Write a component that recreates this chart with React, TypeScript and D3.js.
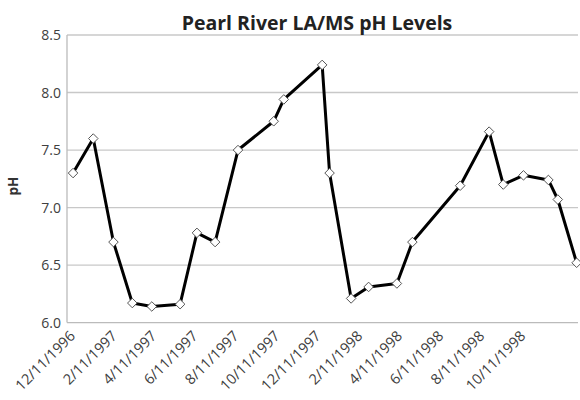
import React, { useEffect, useRef } from 'react';
import * as d3 from 'd3';

const sampleDates = [
  '1996-12-20', '1997-01-19', '1997-02-18', '1997-03-18', '1997-04-16', '1997-05-28',
  '1997-06-22', '1997-07-19', '1997-08-22', '1997-10-14', '1997-10-29', '1997-12-25',
  '1998-01-05', '1998-02-06', '1998-03-04', '1998-04-15', '1998-05-08', '1998-07-18',
  '1998-08-30', '1998-09-20', '1998-10-20', '1998-11-26', '1998-12-10', '1999-01-07',
];
const phValues = [
  7.30, 7.60, 6.70, 6.17, 6.14, 6.16,
  6.78, 6.70, 7.50, 7.75, 7.94, 8.24,
  7.30, 6.21, 6.31, 6.34, 6.70, 7.19,
  7.66, 7.20, 7.28, 7.24, 7.07, 6.52,
];
const tickDates = [
  '1996-12-11', '1997-02-11', '1997-04-11', '1997-06-11', '1997-08-11', '1997-10-11',
  '1997-12-11', '1998-02-11', '1998-04-11', '1998-06-11', '1998-08-11', '1998-10-11',
];
const yTicks = [6.0, 6.5, 7.0, 7.5, 8.0, 8.5];

const parse = d3.utcParse('%Y-%m-%d');
const fmt = (d: Date) => `${d.getUTCMonth() + 1}/${d.getUTCDate()}/${d.getUTCFullYear()}`;

const App = () => {
  const ref = useRef<SVGSVGElement | null>(null);

  useEffect(() => {
    if (!ref.current) return;
    const svg = d3.select(ref.current);
    svg.selectAll('*').remove();

    const left = 67, right = 578, top = 35, bottom = 322.6;
    const font = '"Open Sans", sans-serif';

    const x = d3.scaleUtc()
      .domain([parse('1996-12-11')!, parse('1999-01-09')!])
      .range([left, right]);
    const y = d3.scaleLinear().domain([6, 8.5]).range([bottom, top]);

    const data = sampleDates.map((d, i) => ({ date: parse(d)!, v: phValues[i] }));

    svg.append('rect').attr('width', 580).attr('height', 400).attr('fill', '#fff');

    // grid
    svg.append('g').selectAll('line')
      .data(yTicks.slice(1))
      .join('line')
      .attr('x1', left).attr('x2', right)
      .attr('y1', d => y(d)).attr('y2', d => y(d))
      .attr('stroke', '#c8c8c8').attr('stroke-width', 1.3);

    // axes lines
    svg.append('line').attr('x1', left).attr('x2', left).attr('y1', top).attr('y2', bottom)
      .attr('stroke', '#bbb').attr('stroke-width', 1.3);
    svg.append('line').attr('x1', left).attr('x2', right).attr('y1', bottom).attr('y2', bottom)
      .attr('stroke', '#bbb').attr('stroke-width', 1.3);

    // y labels
    svg.append('g').selectAll('text')
      .data(yTicks)
      .join('text')
      .attr('x', 61).attr('y', d => y(d) + 5)
      .attr('text-anchor', 'end')
      .attr('font-family', font).attr('font-size', 14)
      .attr('fill', '#404040')
      .text(d => d.toFixed(1));

    // x labels
    svg.append('g').selectAll('text')
      .data(tickDates.map(d => parse(d)!))
      .join('text')
      .attr('transform', d => `translate(${x(d) + 9},${337}) rotate(-45)`)
      .attr('text-anchor', 'end')
      .attr('font-family', font).attr('font-size', 14.5)
      .attr('fill', '#404040')
      .text(d => fmt(d));

    // axis title
    svg.append('text')
      .attr('transform', 'translate(18,186) rotate(-90)')
      .attr('text-anchor', 'middle')
      .attr('font-family', font).attr('font-size', 13.5).attr('font-weight', 'bold')
      .attr('fill', '#333')
      .text('pH');

    // title
    svg.append('text')
      .attr('x', 317).attr('y', 30)
      .attr('text-anchor', 'middle')
      .attr('font-family', font).attr('font-size', 19.5).attr('font-weight', 'bold')
      .attr('fill', '#222')
      .text('Pearl River LA/MS pH Levels');

    const line = d3.line<{ date: Date; v: number }>()
      .x(d => x(d.date))
      .y(d => y(d.v));

    svg.append('path')
      .datum(data)
      .attr('fill', 'none')
      .attr('stroke', '#000')
      .attr('stroke-width', 3)
      .attr('stroke-linejoin', 'round')
      .attr('d', line);

    const diamond = d3.symbol().type(d3.symbolDiamond2).size(58);
    svg.append('g').selectAll('path')
      .data(data)
      .join('path')
      .attr('transform', d => `translate(${x(d.date)},${y(d.v)})`)
      .attr('d', diamond)
      .attr('fill', '#fff')
      .attr('stroke', '#555')
      .attr('stroke-width', 1);
  }, []);

  return (
    <svg ref={ref} width={580} height={400}
      style={{ position: 'absolute', left: 0, top: 0, display: 'block' }} />
  );
};

export default App;
